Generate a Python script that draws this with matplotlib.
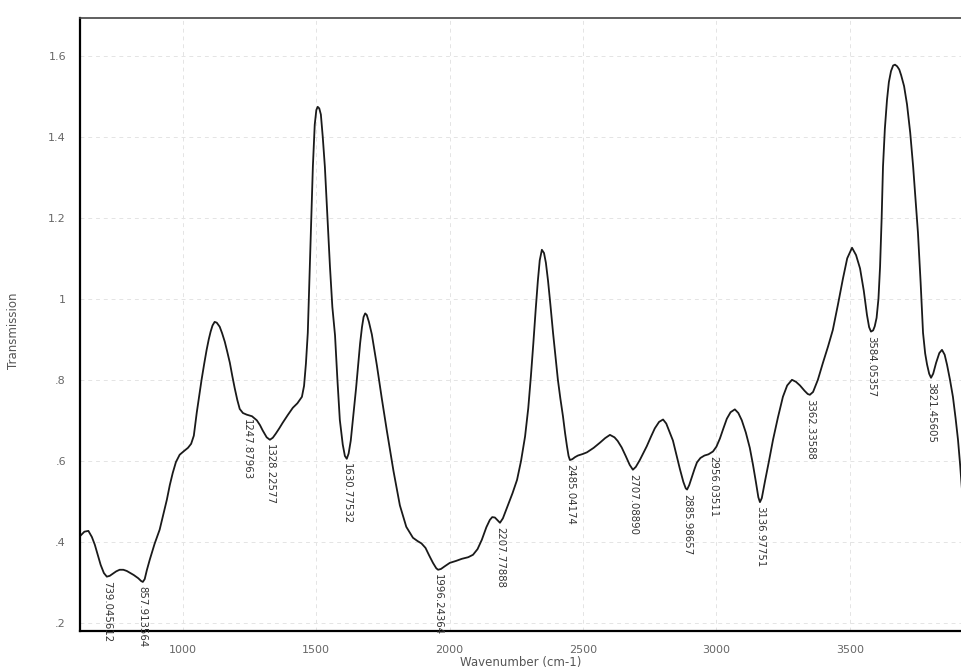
import matplotlib
matplotlib.use("Agg")
import matplotlib.pyplot as plt

# spectrum (wavenumber in cm-1, transmission)
wavenumber = [
    617, 632, 647, 660, 671, 682, 693, 705, 716, 727,
    738, 751, 764, 778, 791, 804, 817, 834, 845, 851,
    858, 866, 877, 895, 914, 928, 941, 952, 963, 975,
    989, 1005, 1020, 1032, 1042, 1053, 1062, 1071, 1081, 1090,
    1098, 1105, 1112, 1120, 1128, 1139, 1148, 1158, 1167, 1177,
    1186, 1195, 1205, 1214, 1226, 1240, 1260, 1278, 1290, 1300,
    1315, 1327, 1338, 1349, 1362, 1375, 1394, 1413, 1430, 1447,
    1455, 1462, 1469, 1479, 1488, 1495, 1501, 1506, 1512, 1518,
    1525, 1533, 1542, 1552, 1561, 1571, 1580, 1589, 1600, 1608,
    1615, 1622, 1630, 1640, 1650, 1657, 1665, 1672, 1678, 1684,
    1690, 1698, 1709, 1718, 1728, 1746, 1765, 1790, 1814, 1838,
    1863, 1880, 1895, 1910, 1924, 1938, 1950, 1957, 1968, 1983,
    2001, 2025, 2046, 2070, 2088, 2105, 2121, 2138, 2151, 2160,
    2170, 2180, 2189, 2200, 2219, 2236, 2253, 2268, 2283, 2295,
    2305, 2314, 2323, 2331, 2338, 2346, 2354, 2361, 2369, 2378,
    2388, 2398, 2406, 2415, 2425, 2433, 2440, 2446, 2451, 2460,
    2470, 2481, 2500, 2515, 2540, 2564, 2583, 2601, 2618, 2630,
    2645, 2660, 2675, 2687, 2698, 2713, 2727, 2739, 2755, 2769,
    2785, 2800, 2812, 2822, 2837, 2850, 2863, 2876, 2885, 2890,
    2898, 2908, 2918, 2927, 2940, 2955, 2970, 2987, 3000, 3013,
    3026, 3039, 3053, 3069, 3082, 3095, 3110, 3125, 3137, 3148,
    3157, 3163, 3170, 3182, 3197, 3212, 3230, 3249, 3265, 3283,
    3298, 3313, 3330, 3342, 3350, 3362, 3380, 3399, 3418, 3436,
    3455, 3474, 3490, 3508, 3523, 3538, 3552, 3564, 3572, 3579,
    3587, 3593, 3600, 3607, 3613, 3619, 3624, 3631, 3639, 3646,
    3654, 3662, 3669, 3677, 3685, 3692, 3703, 3714, 3726, 3737,
    3746, 3755, 3765, 3774, 3782, 3789, 3797, 3804, 3812, 3823,
    3835, 3845, 3855, 3864, 3875, 3886, 3896, 3905, 3913, 3920,
]
transmission = [
    0.415, 0.425, 0.427, 0.412, 0.393, 0.368, 0.343, 0.323, 0.314, 0.316,
    0.321, 0.327, 0.331, 0.331, 0.328, 0.323, 0.318, 0.310, 0.303, 0.301,
    0.308, 0.330, 0.356, 0.395, 0.430, 0.468, 0.504, 0.540, 0.570, 0.597,
    0.615, 0.624, 0.632, 0.642, 0.662, 0.719, 0.760, 0.800, 0.840, 0.874,
    0.900, 0.919, 0.934, 0.943, 0.941, 0.931, 0.915, 0.894, 0.870, 0.842,
    0.810, 0.780, 0.750, 0.728, 0.718, 0.714, 0.710, 0.700, 0.688, 0.675,
    0.658, 0.652, 0.657, 0.667, 0.680, 0.694, 0.713, 0.731, 0.742, 0.758,
    0.785, 0.840, 0.916, 1.130, 1.326, 1.430, 1.466, 1.474, 1.470, 1.455,
    1.400, 1.326, 1.210, 1.080, 0.980, 0.910, 0.800, 0.701, 0.640, 0.612,
    0.605, 0.618, 0.650, 0.715, 0.780, 0.830, 0.890, 0.930, 0.955, 0.964,
    0.960, 0.943, 0.912, 0.875, 0.835, 0.755, 0.675, 0.575, 0.490, 0.437,
    0.410, 0.402, 0.396, 0.385, 0.366, 0.348, 0.335, 0.331, 0.333, 0.340,
    0.348, 0.353, 0.358, 0.362, 0.368, 0.382, 0.405, 0.436, 0.454, 0.461,
    0.460, 0.453, 0.447, 0.458, 0.491, 0.520, 0.553, 0.600, 0.660, 0.730,
    0.810, 0.890, 0.975, 1.045, 1.095, 1.121, 1.113, 1.089, 1.045, 0.985,
    0.915, 0.850, 0.800, 0.755, 0.710, 0.668, 0.636, 0.612, 0.602, 0.604,
    0.609, 0.613, 0.617, 0.621, 0.632, 0.645, 0.656, 0.664, 0.658, 0.649,
    0.633, 0.612, 0.590, 0.578, 0.585, 0.602, 0.620, 0.636, 0.660, 0.680,
    0.696, 0.702, 0.692, 0.675, 0.650, 0.615, 0.580, 0.548, 0.532, 0.529,
    0.540, 0.560, 0.580, 0.596, 0.607, 0.613, 0.616, 0.623, 0.635, 0.655,
    0.680, 0.704, 0.720, 0.727, 0.718, 0.700, 0.670, 0.632, 0.590, 0.547,
    0.510, 0.498, 0.508, 0.550, 0.600, 0.652, 0.706, 0.758, 0.786, 0.800,
    0.795, 0.786, 0.773, 0.765, 0.763, 0.770, 0.800, 0.842, 0.882, 0.923,
    0.985, 1.050, 1.100, 1.126, 1.108, 1.075, 1.020, 0.960, 0.930, 0.919,
    0.922, 0.932, 0.953, 1.000, 1.079, 1.200, 1.326, 1.420, 1.491, 1.535,
    1.562, 1.576, 1.578, 1.574, 1.566, 1.552, 1.525, 1.480, 1.410, 1.326,
    1.245, 1.163, 1.040, 0.916, 0.865, 0.838, 0.815, 0.805, 0.815, 0.842,
    0.866, 0.874, 0.862, 0.837, 0.800, 0.758, 0.705, 0.652, 0.590, 0.528,
]
assert len(wavenumber) == len(transmission)

# picked minima: where they sit on the drawn curve, and the printed value
peak_pos = [716, 851, 1240, 1327, 1615, 1957, 2189, 2451, 2687, 2890,
            2987, 3163, 3350, 3579, 3804]
peak_text = ["739.045612", "857.913564", "1247.87963", "1328.22577",
             "1630.77532", "1996.24364", "2207.77888", "2485.04174",
             "2707.08890", "2885.98657", "2956.03511", "3136.97751",
             "3362.33588", "3584.05357", "3821.45605"]

xticks = [1000, 1500, 2000, 2500, 3000, 3500]
yticks = [0.2, 0.4, 0.6, 0.8, 1.0, 1.2, 1.4, 1.6]
ytick_labels = [".2", ".4", ".6", ".8", "1", "1.2", "1.4", "1.6"]

fig = plt.figure(figsize=(9.62, 6.68), dpi=100)
ax = fig.add_axes([0.083, 0.0555, 0.917, 0.918])

ax.plot(wavenumber, transmission, color="#1a1a1a", linewidth=1.3,
        solid_joinstyle="round")

for pos, txt in zip(peak_pos, peak_text):
    yv = transmission[wavenumber.index(pos)]
    ax.annotate(txt, xy=(pos, yv), xytext=(0, -3), textcoords="offset points",
                rotation=270, ha="center", va="top", fontsize=7.3,
                color="#333333")

ax.set_xlim(615, 3920)
ax.set_ylim(0.18, 1.694)
ax.set_xticks(xticks)
ax.set_yticks(yticks)
ax.set_yticklabels(ytick_labels)
ax.tick_params(length=0, labelsize=8, labelcolor="#666666")
ax.tick_params(axis="x", pad=10)
ax.tick_params(axis="y", pad=10)

ax.grid(True, color="#e4e4e4", linestyle=(0, (4, 4)), linewidth=0.7)

ax.spines["right"].set_visible(False)
ax.spines["left"].set_linewidth(1.6)
ax.spines["bottom"].set_linewidth(1.6)
ax.spines["top"].set_linewidth(1.2)
ax.spines["top"].set_color("#444444")

ax.set_xlabel("Wavenumber (cm-1)", fontsize=8.5, color="#555555", labelpad=1)
ax.set_ylabel("Transmission", fontsize=8.5, color="#555555")
ax.yaxis.set_label_coords(-0.068, 0.49)

fig.savefig("out.png", dpi=100)
